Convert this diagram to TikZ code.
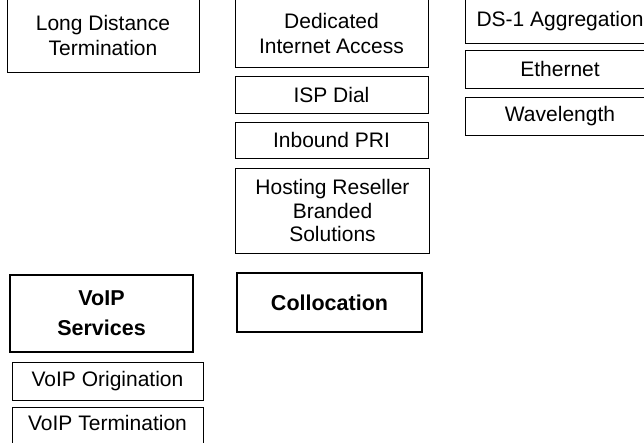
\documentclass[tikz,border=0pt]{standalone}
\usepackage{fontspec}
\setmainfont{Liberation Sans}
\begin{document}
\begin{tikzpicture}[x=1pt,y=-1pt,
  thinbox/.style={draw, line width=0.8pt, inner sep=0pt, align=center,
    font=\fontsize{21}{25}\selectfont},
  thickbox/.style={draw, line width=2.6pt, inner sep=0pt, align=center,
    font=\fontsize{21.5}{30}\selectfont\bfseries}]
\useasboundingbox (0,0) rectangle (644,443);
\clip (0,0) rectangle (644,443);
% column 1
\node[thinbox, minimum width=192pt, minimum height=73pt] (ldt) at (103,35.5) {Long Distance\\Termination};
% column 2
\node[thinbox, minimum width=193pt, minimum height=68pt] (dia) at (331.5,33) {Dedicated\\Internet Access};
\node[thinbox, minimum width=193pt, minimum height=37pt] (isp) at (331.5,94.5) {ISP Dial};
\node[thinbox, minimum width=193pt, minimum height=36pt] (pri) at (331.5,140) {Inbound PRI};
\node[thinbox, minimum width=194pt, minimum height=85pt, font=\fontsize{21}{23.5}\selectfont] (host) at (332.5,210.5) {Hosting Reseller\\Branded\\Solutions};
% column 3
\node[thinbox, minimum width=190pt, minimum height=44pt] (ds1) at (560,21) {DS-1 Aggregation};
\node[thinbox, minimum width=190pt, minimum height=38pt] (eth) at (560,69) {Ethernet};
\node[thinbox, minimum width=190pt, minimum height=38pt] (wave) at (560,116) {Wavelength};
% bottom
\node[thickbox, minimum width=183pt, minimum height=77pt] (voip) at (101.5,313.5) {VoIP\\Services};
\node[thickbox, minimum width=185pt, minimum height=59pt] (coll) at (329.5,302.5) {Collocation};
\node[thinbox, minimum width=191pt, minimum height=38pt] (orig) at (107.5,381) {VoIP Origination};
\node[draw, line width=0.8pt, inner sep=0pt, font=\fontsize{21}{25}\selectfont,
  minimum width=191pt, text height=23.5pt, text depth=19.5pt, anchor=base] (term) at (107.5,430.5) {VoIP Termination};
\end{tikzpicture}
\end{document}
